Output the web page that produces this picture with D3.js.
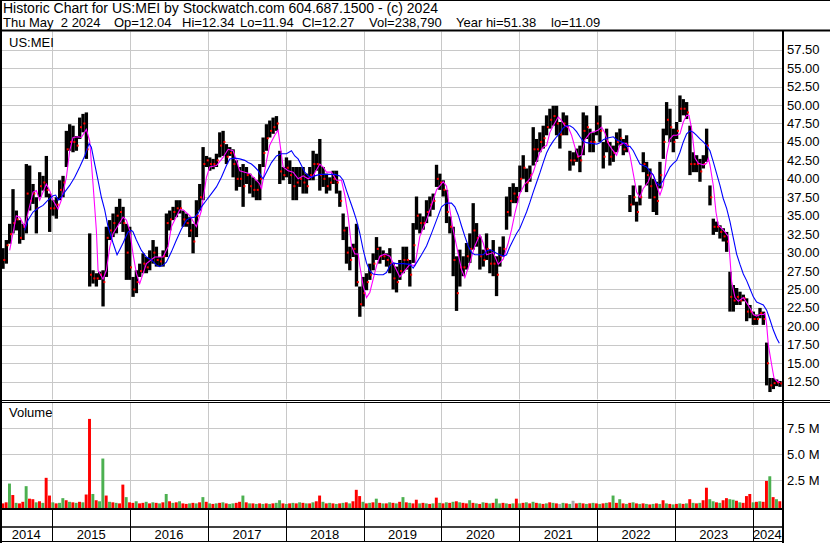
<!DOCTYPE html>
<html>
<head>
<meta charset="utf-8">
<script src="https://cdn.jsdelivr.net/npm/d3@7"></script>
<style>
body { margin: 0; background: #fff; }
svg { display: block; font-family: "Liberation Sans", Arial, sans-serif; }
text { white-space: pre; }
</style>
</head>
<body>
<script>
// half-month slots (high / low / close)
var highs = [
  30.1, 30.6, 31.7, 33.9, 38.6, 35.7, 34.4, 33.9, 42.0, 41.8,
  39.3, 37.5, 40.9, 40.4, 43.1, 38.0, 37.1, 37.5, 39.8, 40.4,
  46.5, 47.4, 47.2, 45.8, 48.3, 48.8, 49.0, 32.6, 27.6, 27.2,
  27.4, 27.6, 33.5, 34.4, 35.3, 36.2, 37.3, 36.2, 33.9,
  33.5, 26.7, 27.6, 28.5, 29.9, 29.4, 30.3, 31.7, 30.8, 29.4,
  30.3, 35.3, 35.7, 36.2, 37.1, 37.1, 35.7, 35.3, 34.8, 33.9,
  37.1, 39.3, 44.3, 43.1, 42.9, 42.7, 43.4, 46.3, 46.5, 44.7,
  44.3, 44.0, 42.5, 41.6, 42.0, 41.6, 40.7, 40.2, 39.8,
  42.0, 45.6, 47.4, 47.9, 48.3, 48.5, 43.8, 41.6, 42.9, 42.5,
  41.6, 41.6, 41.6, 41.6, 40.7, 41.6, 43.8, 43.4, 45.4, 41.6,
  40.7, 40.2, 41.1, 41.1, 38.4, 35.3, 33.5, 30.8, 31.2, 33.9,
  25.4, 26.7, 27.2, 28.5, 29.9, 32.1, 30.8, 30.3, 29.9,
  30.6, 28.6, 28.1, 29.0, 30.8, 30.8, 29.0, 34.0, 37.6, 35.3,
  34.9, 37.1, 37.6, 38.0, 41.9, 40.7, 39.8, 38.5, 34.9, 33.5,
  29.5, 30.4, 29.5, 31.3, 32.6, 36.7, 34.0, 32.2, 30.4, 32.6,
  30.4, 31.7, 29.5, 30.8, 32.2, 37.6, 38.9, 39.4, 38.9,
  41.8, 43.2, 41.4, 41.8, 47.0, 45.4, 46.3, 47.2, 48.6, 49.5,
  49.9, 49.9, 47.7, 49.0, 48.6, 43.8, 43.6, 44.1, 44.5, 49.0,
  48.6, 46.8, 46.3, 49.9, 48.6, 45.0, 46.8, 45.0, 44.5, 46.3,
  46.8, 45.4, 45.9, 37.8, 39.1, 36.9, 39.1, 43.6, 42.3,
  41.4, 40.0, 39.6, 42.3, 46.8, 50.4, 49.5, 46.8, 47.7, 51.3,
  50.8, 50.4, 47.2, 43.6, 43.2, 42.7, 43.2, 46.8, 39.1, 34.6,
  34.2, 33.7, 33.3, 32.8, 27.4, 25.6, 25.2, 24.7, 24.3, 23.8,
  22.9, 22.0, 21.6, 22.5, 22.0, 17.8, 13.0, 13.0, 12.8, 12.6
];
var lows = [
  27.4, 27.8, 28.5, 31.2, 32.6, 33.0, 31.2, 31.7, 32.6, 35.7,
  36.6, 32.6, 37.5, 38.4, 37.5, 32.8, 35.0, 34.6, 37.1, 37.5,
  41.6, 43.8, 43.6, 43.8, 45.4, 46.3, 42.7, 25.4, 25.8, 25.4,
  26.3, 22.7, 26.7, 31.7, 32.1, 32.6, 33.9, 32.8, 26.3,
  26.3, 24.0, 24.5, 26.7, 27.2, 27.2, 27.6, 28.5, 28.1, 28.1,
  28.1, 29.4, 33.0, 34.4, 34.8, 35.3, 33.5, 33.5, 32.1, 29.9,
  32.1, 35.7, 37.1, 41.6, 41.1, 41.3, 41.6, 42.9, 43.1, 42.0,
  43.1, 40.2, 38.4, 38.9, 36.2, 39.3, 38.0, 37.5, 37.1,
  37.1, 41.6, 43.8, 45.6, 46.1, 46.5, 39.3, 39.8, 40.2, 39.3,
  37.1, 37.1, 38.9, 38.0, 38.0, 39.8, 39.8, 41.1, 38.4, 38.9,
  38.0, 38.4, 39.3, 38.0, 36.2, 31.7, 28.5, 27.6, 29.4, 25.4,
  21.3, 22.7, 24.9, 26.3, 27.6, 29.0, 28.5, 29.0, 28.1,
  27.2, 25.0, 24.6, 26.3, 27.2, 27.7, 25.4, 28.6, 33.1, 32.6,
  33.1, 34.0, 34.9, 35.8, 38.9, 38.5, 37.6, 34.0, 32.6, 26.8,
  22.1, 25.4, 26.8, 27.7, 28.6, 30.4, 30.8, 27.7, 28.1, 29.0,
  27.2, 26.8, 24.1, 28.1, 29.5, 33.1, 34.9, 36.7, 36.7,
  38.2, 40.0, 38.2, 39.6, 41.8, 42.3, 43.6, 44.1, 45.9, 46.8,
  47.2, 45.9, 44.1, 45.9, 45.9, 41.1, 41.8, 42.3, 40.9, 43.2,
  45.4, 43.6, 43.6, 45.9, 45.0, 41.4, 43.6, 41.8, 42.3, 43.6,
  44.5, 43.2, 43.6, 35.5, 36.4, 34.2, 36.4, 40.9, 39.1,
  37.3, 35.5, 35.1, 38.7, 42.7, 45.9, 45.0, 43.6, 45.4, 47.7,
  48.6, 48.1, 40.5, 40.9, 40.9, 39.6, 41.4, 42.3, 36.4, 32.4,
  32.8, 31.9, 31.5, 30.1, 22.0, 22.0, 22.9, 22.9, 23.4, 20.7,
  21.1, 20.2, 20.2, 21.1, 20.2, 12.0, 11.1, 11.5, 11.9, 11.8
];
var closes = [
  29.5, 29.0, 31.0, 32.5, 34.0, 34.5, 32.0, 33.5, 38.0, 37.0,
  38.0, 36.0, 39.0, 39.5, 38.5, 36.0, 36.0, 36.5, 38.5, 39.5,
  44.0, 45.0, 45.0, 44.5, 47.0, 47.5, 44.0, 27.0, 26.5, 26.5,
  27.0, 26.0, 32.0, 33.0, 34.0, 35.0, 35.5, 34.0, 30.0,
  28.0, 25.0, 26.0, 27.5, 28.5, 28.0, 29.0, 30.0, 29.0, 28.8,
  29.5, 34.0, 34.5, 35.5, 36.0, 36.0, 34.5, 34.0, 33.0, 31.5,
  35.0, 37.5, 42.0, 42.5, 42.0, 42.0, 42.5, 44.5, 45.0, 43.0,
  43.5, 42.0, 40.0, 40.0, 39.0, 40.5, 39.0, 38.5, 38.5,
  40.0, 43.5, 45.5, 46.5, 47.0, 47.5, 41.0, 40.5, 41.5, 40.5,
  39.0, 39.5, 40.0, 39.5, 39.0, 40.5, 42.0, 42.0, 40.5, 40.0,
  39.0, 39.5, 40.0, 39.5, 37.0, 33.0, 30.0, 29.0, 30.5, 26.0,
  23.0, 24.5, 26.0, 27.0, 28.5, 30.5, 29.5, 29.5, 29.0,
  28.5, 26.5, 26.0, 27.5, 29.0, 29.0, 27.0, 31.0, 35.0, 34.0,
  34.0, 35.5, 36.5, 37.0, 40.0, 39.5, 38.5, 35.5, 33.5, 29.0,
  24.5, 28.0, 28.0, 29.5, 30.5, 33.0, 32.0, 29.5, 29.0, 30.5,
  28.5, 28.5, 27.0, 29.5, 30.5, 35.5, 37.0, 38.0, 37.5,
  40.0, 41.5, 39.5, 40.5, 44.0, 44.0, 45.0, 45.5, 47.0, 48.0,
  48.5, 47.5, 46.0, 47.5, 47.0, 42.5, 42.5, 43.0, 42.5, 46.5,
  47.0, 45.0, 45.0, 47.5, 46.5, 43.0, 45.0, 43.0, 43.5, 45.0,
  45.5, 44.0, 44.5, 36.5, 37.5, 35.5, 37.5, 42.0, 40.5,
  39.0, 37.5, 37.0, 40.5, 45.0, 48.0, 47.0, 45.0, 46.5, 49.5,
  49.5, 49.0, 42.0, 42.0, 42.0, 41.0, 42.0, 44.5, 37.5, 33.5,
  33.5, 32.8, 32.2, 31.5, 24.0, 23.5, 24.0, 23.5, 23.8, 22.0,
  22.0, 21.0, 21.0, 21.8, 21.0, 15.0, 12.0, 12.3, 12.4, 12.27
];

// volume per slot, millions; g = up, r = down, n = unchanged
var volumes = [
  0.35, 0.3, 0.4, 2.2, 1.1, 0.35, 0.3, 0.45, 1.95, 0.75,
  0.7, 0.4, 0.5, 0.35, 2.75, 1.05, 0.4, 0.3, 0.35, 0.8,
  0.6, 0.45, 0.4, 0.35, 0.45, 0.4, 1.15, 8.4, 1.2, 0.6,
  0.5, 4.6, 1.05, 0.45, 0.4, 0.35, 0.3, 2.1, 0.9, 0.4,
  0.35, 0.5, 0.3, 0.35, 0.45, 0.3, 0.4, 0.35, 0.3, 0.4,
  1.2, 0.5, 0.35, 0.4, 0.5, 0.3, 0.25, 0.3, 0.35, 0.3,
  0.4, 0.9, 0.45, 0.3, 0.25, 0.3, 0.35, 0.4, 0.3, 0.25,
  0.3, 0.35, 0.45, 1.05, 0.4, 0.3, 0.3, 0.25, 0.3, 0.25,
  0.3, 0.25, 0.3, 0.35, 0.6, 0.3, 0.25, 0.3, 0.35, 0.3,
  0.4, 0.35, 0.3, 0.3, 0.4, 0.5, 1.05, 0.45, 0.3, 0.35,
  0.3, 0.25, 0.3, 0.35, 0.4, 0.3, 0.5, 1.6, 1.0, 0.45,
  0.3, 0.35, 0.4, 0.75, 0.35, 0.3, 0.3, 0.4, 0.35, 0.3,
  0.45, 0.9, 0.4, 0.35, 0.3, 0.65, 0.3, 0.35, 0.3, 0.25,
  0.3, 0.85, 0.35, 0.3, 0.4, 0.35, 0.45, 0.5, 0.4, 0.35,
  0.3, 0.6, 0.35, 0.3, 0.25, 0.4, 0.35, 0.3, 0.35, 0.75,
  0.3, 0.35, 0.3, 0.25, 0.3, 0.75, 0.3, 0.35, 0.4, 0.3,
  0.45, 0.35, 0.3, 0.25, 0.3, 0.4, 0.35, 0.3, 0.25, 0.35,
  0.3, 0.25, 0.55, 0.3, 0.35, 0.3, 0.25, 0.3, 0.35, 0.3,
  0.25, 0.3, 0.35, 0.4, 1.05, 0.35, 0.7, 0.3, 0.25, 0.35,
  0.4, 0.3, 0.25, 0.3, 0.25, 0.2, 0.25, 0.3, 0.25, 0.6,
  0.3, 0.25, 0.2, 0.25, 0.3, 0.25, 0.3, 0.7, 0.35, 0.3,
  0.35, 0.6, 1.8, 0.7, 0.5, 0.4, 0.35, 0.6, 0.8, 0.7,
  0.65, 0.55, 0.4, 0.35, 1.0, 1.2, 0.4, 0.45, 0.5, 0.45,
  2.45, 2.9, 0.9, 0.7, 0.5
];
var volColors = "grrgrgrrgr" + "rgrgrrgrgg" + "rgrgrgrrgr" + "ggrgrgrrgr" +
  "rgrrgrgrgr" + "grgrgrrgrg" + "rgrgrgrgrg" + "grrgrgrgrg" +
  "rgrggrgrgr" + "grgrgrrgrg" + "rgrgrgrrrg" + "rgrgrgrgrg" +
  "rgrgrrgrgr" + "grgrgrgrgr" + "rgrgrgrgrg" + "grgrgrgrgr" +
  "grgrgrgrng" + "rgnrgrgrgr" + "grgrgrgrgr" + "grgrgrgrgr" +
  "grgrgrgrgr" + "grrggrgrrg" + "grgrrrgrgr" + "rgrgr";

// moving averages, [slot, price] points
var fastAvg = [[3,30.3],[5,35.0],[6,34.8],[7.5,33.5],[10,38.2],[11,38.4],[12,37.1],[14,39.3],[15,38.4],[16,37.1],
  [17.5,35.9],[18.5,37.1],[20,40.2],[21,43.8],[22,45.6],[23.5,45.7],[24.5,45.6],[26,46.7],[27,45.1],[28,39.3],
  [29,33.0],[29.5,27.6],[31,26.4],[32,27.6],[33,30.7],[34,32.6],[35,33.3],[37,34.8],[38,34.4],[39,33.0],
  [40,29.8],[41,27.2],[42,25.8],[44,28.5],[46.5,29.4],[49,29.4],[50.5,30.8],[51.5,33.5],[54,35.8],[55,35.8],
  [57,35.0],[59,33.5],[60.5,35.7],[62,40.2],[63,41.6],[65,41.8],[67,42.9],[68.5,44.0],[70,43.8],[71,42.5],
  [72,41.1],[73.5,40.9],[75,40.7],[77,39.8],[78,39.3],[78.5,38.6],[80,42.4],[81,44.6],[82.5,45.9],[83.5,46.6],
  [85,41.6],[86.5,41.1],[88,40.9],[89.5,40.0],[91,40.4],[92.5,40.0],[94,40.4],[96,42.0],[97,41.6],[98,40.9],
  [99.5,40.9],[101,39.8],[102.5,39.8],[103.5,37.8],[104.5,34.9],[105.5,30.9],[106.5,29.8],[107.5,29.8],[108,28.2],[109,25.5],
  [110,23.9],[111,24.6],[112,26.4],[113,28.2],[114,29.5],[115.5,29.8],[117,29.5],[120,26.7],[123,28.4],[124.5,28.2],
  [126,32.2],[128,34.4],[130,37.1],[131,38.5],[133,39.6],[134,39.0],[135,35.8],[136,33.1],[137,30.9],[138.5,27.7],
  [139.5,26.6],[141,28.6],[142.5,30.9],[144,32.4],[145,31.3],[146,29.7],[148,30.0],[149.5,28.4],[151,29.1],[152.5,31.3],
  [153.5,33.1],[154.5,35.3],[156,38.0],[157.5,39.3],[159,40.0],[160,40.9],[161,42.3],[162,43.6],[163,44.3],[164,44.5],
  [165,46.3],[166,47.2],[167.5,48.4],[168.5,47.9],[169.5,47.2],[170.5,47.0],[171.5,45.9],[172.5,44.3],[173.5,43.0],[174.5,43.2],
  [175.5,45.3],[177,46.2],[178.5,46.4],[179.5,46.6],[180.5,47.0],[181.5,46.2],[182.5,44.8],[183.5,44.1],[185,43.2],[186,44.6],
  [187,44.8],[188,44.8],[189,43.2],[190,40.7],[191,38.2],[192,37.5],[193,38.7],[194.5,39.6],[195.5,40.8],[196,40.5],
  [197,39.1],[198,37.8],[199,39.1],[200,43.2],[201,45.4],[202,45.9],[203,45.9],[204,46.1],[205,47.7],[206,48.6],
  [206.7,48.6],[207.5,46.8],[208.5,42.8],[209.5,42.1],[211,41.9],[212,42.1],[212.5,42.8],[213,41.9],[214,39.1],[214.8,35.5],
  [215.5,33.7],[216.5,33.3],[217.5,32.8],[218.5,32.2],[219,29.2],[219.5,26.1],[220.5,23.9],[221.5,23.4],[223,23.9],[224,23.2],
  [225,22.5],[226,21.6],[227,21.4],[228,21.6],[229,21.6],[229.5,21.8],[230,20.2],[230.5,17.5],[231.5,14.8],[232.2,13.0],
  [233,12.6],[234,12.4]];
var slowAvg = [[7.5,33.0],[8.5,34.4],[10,35.5],[11.5,36.0],[13,36.4],[14.5,37.1],[16,37.7],[16.8,37.8],[17.5,37.1],[18.5,37.5],
  [19.5,38.2],[21,39.1],[22.5,40.2],[24,41.6],[25.5,43.1],[26.8,44.8],[27.5,44.3],[28.5,42.0],[29.5,39.8],[30.5,37.5],
  [31.5,35.8],[32.5,33.5],[34,31.3],[35.2,29.7],[36,30.4],[37,31.3],[38.5,32.8],[39.5,33.0],[40,32.8],[41,31.7],
  [42.5,30.3],[44,29.4],[45.5,29.0],[47,28.3],[48,28.1],[49,28.3],[50,28.7],[51.5,30.1],[53,31.7],[54.5,33.2],
  [56,34.4],[57,34.7],[58.5,34.8],[59.5,35.3],[60.5,36.2],[62,37.1],[63.5,38.0],[65,38.9],[66.5,40.2],[68,41.8],
  [69,42.7],[70.5,42.8],[72,42.7],[73.5,42.5],[74.5,42.2],[75.5,42.0],[76.5,41.6],[77.5,41.1],[78.5,40.3],[79,40.0],
  [80,40.9],[81.5,42.2],[83,43.1],[84.5,43.4],[86,43.4],[87.5,43.8],[88.5,43.1],[89.5,42.7],[90.5,41.8],[91.5,40.9],
  [92.5,40.4],[93.5,40.2],[94.5,40.4],[96,40.6],[97.5,40.6],[99,40.6],[100.5,40.6],[102,40.4],[103,39.8],[104,38.4],
  [105,37.1],[106,35.8],[107,34.4],[108,32.6],[109,30.4],[110,28.6],[111,27.5],[112,27.1],[113.5,27.0],[115,27.0],
  [116,27.3],[117,28.2],[118,28.6],[119,28.5],[121,28.5],[123,28.4],[124,27.9],[125,28.6],[126.5,29.7],[128,30.9],
  [129.5,32.6],[131,34.4],[132.5,36.2],[134,36.7],[135.5,36.7],[136.5,36.2],[137.5,35.1],[138.5,33.6],[139.5,32.2],[140.5,30.9],
  [141.5,30.0],[142.5,29.7],[145,29.7],[146,30.2],[147,30.4],[148,30.2],[149,29.9],[150,29.7],[151,29.5],[152,29.7],
  [153,30.8],[154,31.7],[155,32.6],[156,33.3],[157,34.4],[158,35.5],[159,36.8],[160,38.2],[161,39.5],[162,40.8],
  [163,42.2],[164,43.5],[165,44.4],[166,45.1],[167,45.7],[168,46.2],[169,46.9],[170,47.2],[171,47.2],[172,46.9],
  [173,46.4],[174,45.7],[175,45.1],[176,44.9],[177.5,44.8],[179,44.7],[180,44.9],[181,45.3],[182,45.5],[183,45.6],
  [184,45.7],[185,45.3],[186,45.1],[187,44.9],[188,44.4],[189,44.4],[190,43.8],[191,42.9],[192,42.0],[193,41.8],
  [194,41.6],[195,41.0],[196,40.5],[197,39.4],[198,39.1],[199,39.8],[200,40.7],[201,41.6],[202,42.1],[203,42.5],
  [204,43.6],[205,45.0],[206,46.1],[207,46.5],[208,46.3],[209,45.9],[210,45.4],[211,45.0],[212,44.5],[213,43.8],
  [214,42.3],[215,40.7],[216,39.1],[217,37.3],[218,36.0],[219,34.2],[220,32.0],[221,29.8],[222,28.4],[223,27.1],
  [224,26.2],[225,25.1],[226,24.0],[227,23.3],[228,23.1],[229,22.9],[230,22.2],[231,20.9],[232,19.5],[233,18.4],
  [233.8,17.7]];

var priceTicks = [12.5, 15, 17.5, 20, 22.5, 25, 27.5, 30, 32.5, 35, 37.5, 40, 42.5, 45, 47.5, 50, 52.5, 55, 57.5];
var volTicks = [2.5, 5, 7.5];
var years = [2014, 2015, 2016, 2017, 2018, 2019, 2020, 2021, 2022, 2023, 2024];
var titleText = "Historic Chart for US:MEI by Stockwatch.com 604.687.1500 - (c) 2024";
var quoteFields = ["Thu May  2 2024", "Op=12.04", "Hi=12.34", "Lo=11.94", "Cl=12.27", "Vol=238,790", "Year hi=51.38", "lo=11.09"];
var quoteX = [3, 114, 182, 240, 302, 369, 456, 551];

var width = 830, height = 543, plotRight = 782;
var priceTop = 31.5, priceBottom = 399.5, volTop = 402.5, volBottom = 508;

var svg = d3.select("body").append("svg")
    .attr("width", width)
    .attr("height", height);

// slot i sits every 15.65 days from the end of April 2014
var startDate = new Date(2014, 3, 29), stepDays = 15.65;
function slotDate(i) { return new Date(startDate.getTime() + i * stepDays * 864e5); }

var x = d3.scaleTime()
    .domain([new Date(2015, 0, 1), new Date(2024, 0, 1)])
    .range([52.3, 752.7]);
var y = d3.scaleLinear().domain([12.5, 57.5]).range([381.7, 49.7]);
var yv = d3.scaleLinear().domain([0, 7.5]).range([506.5, 428.3]);
var slotW = x(slotDate(1)) - x(slotDate(0));

var grid = "#c8c8c8";
var yearEdges = years.slice(1).map(function (yr) { return Math.round(x(new Date(yr, 0, 1))) + 0.5; });

// grid lines
var g = svg.append("g");
g.selectAll("line.ph").data(priceTicks).enter().append("line")
    .attr("x1", 0).attr("x2", plotRight)
    .attr("y1", function (d) { return Math.round(y(d)) + 0.5; })
    .attr("y2", function (d) { return Math.round(y(d)) + 0.5; })
    .attr("stroke", grid);
g.selectAll("line.vh").data(volTicks).enter().append("line")
    .attr("x1", 0).attr("x2", plotRight)
    .attr("y1", function (d) { return Math.round(yv(d)) + 0.5; })
    .attr("y2", function (d) { return Math.round(yv(d)) + 0.5; })
    .attr("stroke", grid);
yearEdges.forEach(function (xx) {
    g.append("line").attr("x1", xx).attr("x2", xx).attr("y1", priceTop).attr("y2", priceBottom).attr("stroke", grid);
    g.append("line").attr("x1", xx).attr("x2", xx).attr("y1", volTop).attr("y2", volBottom).attr("stroke", grid);
    g.append("line").attr("x1", xx).attr("x2", xx).attr("y1", 510).attr("y2", 541).attr("stroke", "#000");
});

// price bars
var idx = d3.range(highs.length);
svg.append("clipPath").attr("id", "plot").append("rect")
    .attr("x", 2).attr("y", priceTop).attr("width", plotRight - 2).attr("height", volBottom - priceTop);
var plot = svg.append("g").attr("clip-path", "url(#plot)");

plot.selectAll("rect.bar").data(idx).enter().append("rect")
    .attr("x", function (i) { return x(slotDate(i)) - slotW / 2; })
    .attr("width", slotW)
    .attr("y", function (i) { return y(highs[i]); })
    .attr("height", function (i) { return Math.max(1, y(lows[i]) - y(highs[i])); })
    .attr("fill", "#000");

plot.selectAll("rect.cl").data(idx).enter().append("rect")
    .attr("x", function (i) { return x(slotDate(i)) + 0.3; })
    .attr("width", 2)
    .attr("y", function (i) { return y(closes[i]) - 1; })
    .attr("height", 2)
    .attr("fill", "#ff0000");

var line = d3.line()
    .x(function (d) { return x(slotDate(d[0])); })
    .y(function (d) { return y(d[1]); });
plot.append("path").attr("d", line(fastAvg)).attr("fill", "none").attr("stroke", "#ff00ff").attr("stroke-width", 1.1);
plot.append("path").attr("d", line(slowAvg)).attr("fill", "none").attr("stroke", "#0000ff").attr("stroke-width", 1.1);

// volume bars
var volFill = { g: "#4cb050", r: "#ff0000", n: "#a8a8a8" };
plot.selectAll("rect.vol").data(idx).enter().append("rect")
    .attr("x", function (i) { return x(slotDate(i)) - slotW / 2; })
    .attr("width", slotW - 0.4)
    .attr("y", function (i) { return yv(volumes[i]); })
    .attr("height", function (i) { return volBottom - yv(volumes[i]); })
    .attr("fill", function (i) { return volFill[volColors[i]]; });

// frame
var frame = svg.append("g").attr("stroke", "#000").attr("fill", "none");
frame.append("line").attr("x1", 0).attr("x2", width).attr("y1", 0.5).attr("y2", 0.5);
frame.append("line").attr("x1", 0).attr("x2", width).attr("y1", 30.5).attr("y2", 30.5).attr("stroke-width", 2);
frame.append("line").attr("x1", 0).attr("x2", width).attr("y1", 400.5).attr("y2", 400.5);
frame.append("line").attr("x1", 0).attr("x2", width).attr("y1", 402.5).attr("y2", 402.5);
frame.append("line").attr("x1", 0).attr("x2", plotRight).attr("y1", 509).attr("y2", 509).attr("stroke-width", 2);
frame.append("line").attr("x1", 0).attr("x2", plotRight).attr("y1", 527).attr("y2", 527).attr("stroke-width", 1.5);
frame.append("line").attr("x1", 0).attr("x2", plotRight).attr("y1", 541.5).attr("y2", 541.5);
frame.append("line").attr("x1", 1).attr("x2", 1).attr("y1", 0).attr("y2", height).attr("stroke-width", 2);
frame.append("line").attr("x1", plotRight + 1).attr("x2", plotRight + 1).attr("y1", 30).attr("y2", height).attr("stroke-width", 2);

// text
svg.append("text")
    .attr("x", 3).attr("y", 13)
    .style("font-size", "14px")
    .text(titleText);

svg.selectAll("text.q").data(quoteFields).enter().append("text")
    .attr("x", function (d, k) { return quoteX[k]; })
    .attr("y", 26.5)
    .style("font-size", "13px")
    .text(function (d) { return d; });

svg.append("text").attr("x", 9).attr("y", 46.5).style("font-size", "13px").text("US:MEI");
svg.append("text").attr("x", 9).attr("y", 416.5).style("font-size", "13px").text("Volume");

svg.selectAll("text.pt").data(priceTicks).enter().append("text")
    .attr("x", 787).attr("y", function (d) { return y(d) + 4.5; })
    .style("font-size", "13px")
    .text(function (d) { return d.toFixed(2); });

svg.selectAll("text.vt").data(volTicks).enter().append("text")
    .attr("x", 787).attr("y", function (d) { return yv(d) + 4.5; })
    .style("font-size", "13px")
    .text(function (d) { return d.toFixed(1) + " M"; });

svg.selectAll("text.yr").data(years).enter().append("text")
    .attr("x", function (yr) {
        var a = Math.max(0, x(new Date(yr, 0, 1))), b = Math.min(plotRight, x(new Date(yr + 1, 0, 1)));
        return (a + b) / 2;
    })
    .attr("y", 539)
    .attr("text-anchor", "middle")
    .style("font-size", "13px")
    .text(function (yr) { return yr; });
</script>
</body>
</html>
